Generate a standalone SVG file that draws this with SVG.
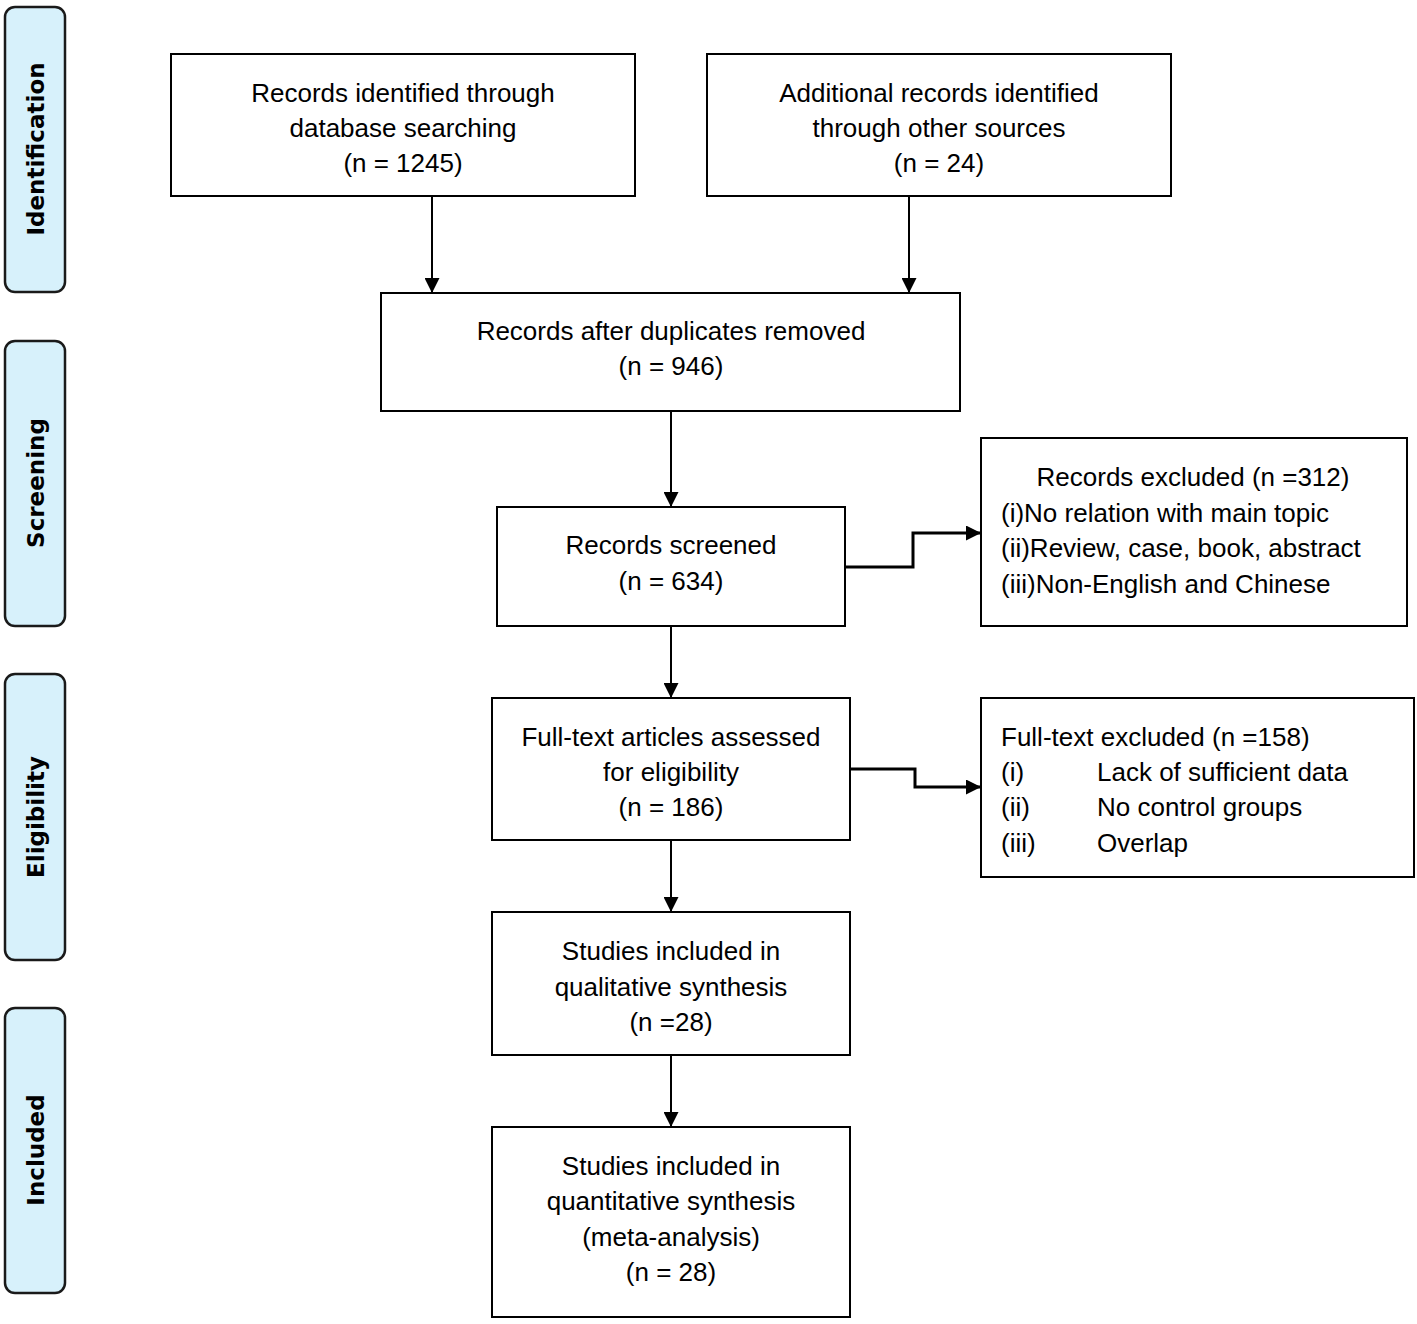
<svg xmlns="http://www.w3.org/2000/svg" width="1417" height="1324" viewBox="0 0 1417 1324">
<style>
.box{fill:#fff;stroke:#000;stroke-width:2}
.side{fill:#d7f1fb;stroke:#1a1a1a;stroke-width:2.5}
.t{font-family:"Liberation Sans",Arial,sans-serif;font-size:26px;fill:#000}
.c{text-anchor:middle}
.s{font-family:"DejaVu Sans",Verdana,sans-serif;font-size:23px;font-weight:bold;fill:#000;text-anchor:middle}
.ln{fill:none;stroke:#000;stroke-width:2}
.el{fill:none;stroke:#000;stroke-width:3}
</style>
<defs>
<marker id="ah" markerWidth="15" markerHeight="15" refX="15" refY="7.5" orient="auto" markerUnits="userSpaceOnUse">
<path d="M0,0 L15,7.5 L0,15 Z" fill="#000"/>
</marker>
</defs>
<rect width="1417" height="1324" fill="#fff"/>
<g id="side-identification"><rect class="side" x="5" y="7" width="60" height="285" rx="10"/><text class="s" transform="translate(44,149) rotate(-90)">Identification</text></g>
<g id="side-screening"><rect class="side" x="5" y="341" width="60" height="285" rx="10"/><text class="s" transform="translate(44,483) rotate(-90)">Screening</text></g>
<g id="side-eligibility"><rect class="side" x="5" y="674" width="60" height="286" rx="10"/><text class="s" transform="translate(44,817) rotate(-90)">Eligibility</text></g>
<g id="side-included"><rect class="side" x="5" y="1008" width="60" height="285" rx="10"/><text class="s" transform="translate(44,1150) rotate(-90)">Included</text></g>

<g id="n-db"><rect class="box" x="171" y="54" width="464" height="142"/>
<text class="t c" x="403" y="102">Records identified through</text>
<text class="t c" x="403" y="137">database searching</text>
<text class="t c" x="403" y="172">(n = 1245)</text></g>
<g id="n-other"><rect class="box" x="707" y="54" width="464" height="142"/>
<text class="t c" x="939" y="102">Additional records identified</text>
<text class="t c" x="939" y="137">through other sources</text>
<text class="t c" x="939" y="172">(n = 24)</text></g>
<g id="n-dup"><rect class="box" x="381" y="293" width="579" height="118"/>
<text class="t c" x="671" y="340">Records after duplicates removed</text>
<text class="t c" x="671" y="375">(n = 946)</text></g>
<g id="n-screened"><rect class="box" x="497" y="507" width="348" height="119"/>
<text class="t c" x="671" y="554">Records screened</text>
<text class="t c" x="671" y="590">(n = 634)</text></g>
<g id="n-excl1"><rect class="box" x="981" y="438" width="426" height="188"/>
<text class="t c" x="1193" y="486">Records excluded (n =312)</text>
<text class="t" x="1001" y="522">(i)No relation with main topic</text>
<text class="t" x="1001" y="557">(ii)Review, case, book, abstract</text>
<text class="t" x="1001" y="593">(iii)Non-English and Chinese</text></g>
<g id="n-full"><rect class="box" x="492" y="698" width="358" height="142"/>
<text class="t c" x="671" y="746">Full-text articles assessed</text>
<text class="t c" x="671" y="781">for eligibility</text>
<text class="t c" x="671" y="816">(n = 186)</text></g>
<g id="n-excl2"><rect class="box" x="981" y="698" width="433" height="179"/>
<text class="t" x="1001" y="746">Full-text excluded (n =158)</text>
<text class="t" x="1001" y="781">(i)</text><text class="t" x="1097" y="781">Lack of sufficient data</text>
<text class="t" x="1001" y="816">(ii)</text><text class="t" x="1097" y="816">No control groups</text>
<text class="t" x="1001" y="852">(iii)</text><text class="t" x="1097" y="852">Overlap</text></g>
<g id="n-qual"><rect class="box" x="492" y="912" width="358" height="143"/>
<text class="t c" x="671" y="960">Studies included in</text>
<text class="t c" x="671" y="996">qualitative synthesis</text>
<text class="t c" x="671" y="1031">(n =28)</text></g>
<g id="n-quant"><rect class="box" x="492" y="1127" width="358" height="190"/>
<text class="t c" x="671" y="1175">Studies included in</text>
<text class="t c" x="671" y="1210">quantitative synthesis</text>
<text class="t c" x="671" y="1246">(meta-analysis)</text>
<text class="t c" x="671" y="1281">(n = 28)</text></g>

<g id="connectors">
<line class="ln" x1="432" y1="196" x2="432" y2="293" marker-end="url(#ah)"/>
<line class="ln" x1="909" y1="196" x2="909" y2="293" marker-end="url(#ah)"/>
<line class="ln" x1="671" y1="411" x2="671" y2="507" marker-end="url(#ah)"/>
<line class="ln" x1="671" y1="626" x2="671" y2="698" marker-end="url(#ah)"/>
<line class="ln" x1="671" y1="840" x2="671" y2="912" marker-end="url(#ah)"/>
<line class="ln" x1="671" y1="1055" x2="671" y2="1127" marker-end="url(#ah)"/>
<polyline class="el" points="845,567 913,567 913,533 981,533" marker-end="url(#ah)"/>
<polyline class="el" points="850,769 915,769 915,787 981,787" marker-end="url(#ah)"/>
</g>
</svg>
